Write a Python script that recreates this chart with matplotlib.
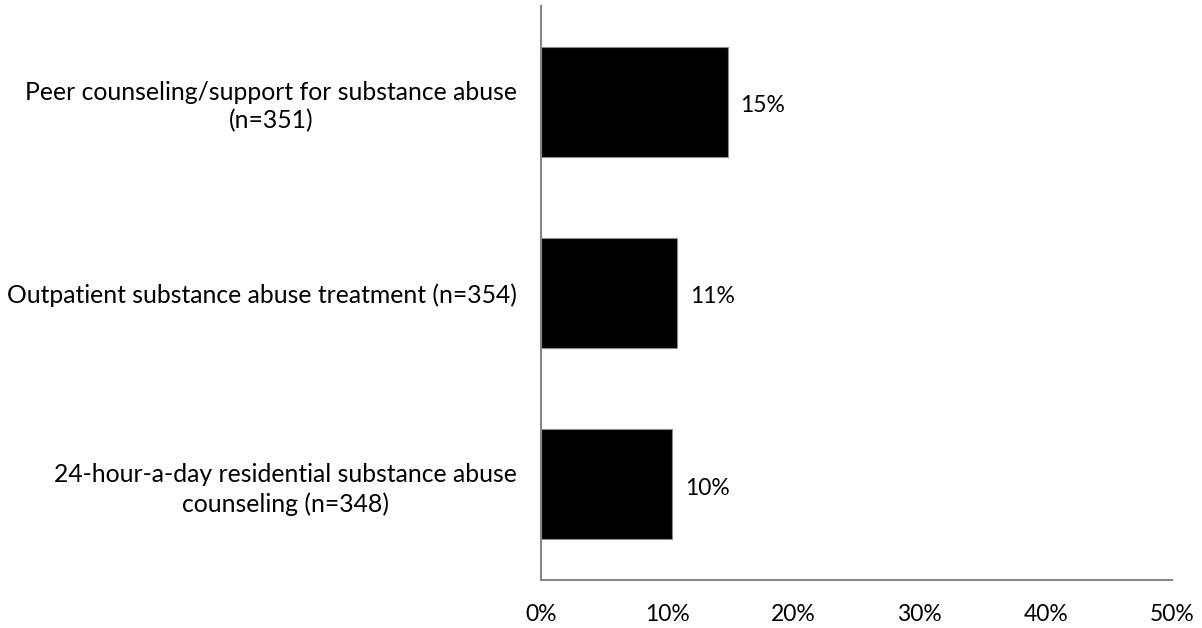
import matplotlib.pyplot as plt

categories = ['Peer counseling/support for substance abuse\n(n=351)',
              'Outpatient substance abuse treatment (n=354)',
              '24-hour-a-day residential substance abuse\ncounseling (n=348)']
values = [14.8, 10.8, 10.4]
value_labels = ['15%', '11%', '10%']
xticks = [0, 10, 20, 30, 40, 50]

plt.rcParams['font.family'] = ['Lato', 'DejaVu Sans']

fig = plt.figure(figsize=(12.02, 6.28), dpi=100)
ax = fig.add_axes([0.45, 0.0764, 0.525, 0.914])

ypos = list(range(len(categories)))
ax.barh(ypos, values, height=0.575, color='black', edgecolor='#8c8c8c', lw=0.8)

for y, v, lab in zip(ypos, values, value_labels):
    ax.text(v + 1.0, y + 0.02, lab, va='center', ha='left', fontsize=16.5)

ax.set_ylim(2.5, -0.5)
ax.set_xlim(0, 50)
ax.set_yticks(ypos)
ax.set_yticklabels(categories, fontsize=17.8, ha='right', multialignment='center',
                   linespacing=1.3)
ax.tick_params(axis='y', length=0, pad=17)
ax.set_xticks(xticks)
ax.set_xticklabels([f'{t}%' for t in xticks], fontsize=16.5)
ax.tick_params(axis='x', length=0, pad=17)

for s in ['top', 'right']:
    ax.spines[s].set_visible(False)
for s in ['left', 'bottom']:
    ax.spines[s].set_color('#868686')
    ax.spines[s].set_linewidth(1.5)

fig.savefig('out.png', dpi=100)
